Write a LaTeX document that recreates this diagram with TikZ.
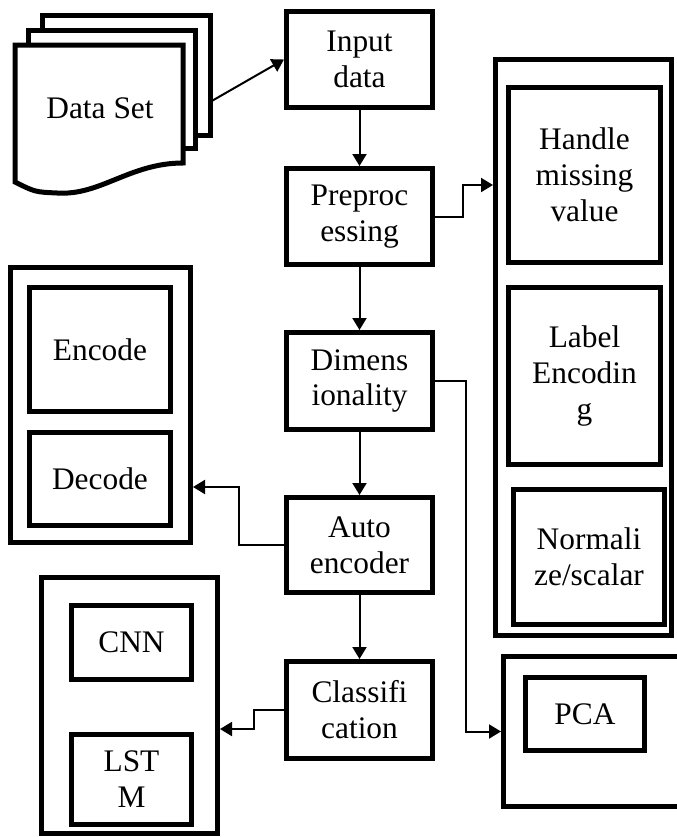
\documentclass[tikz,border=0pt]{standalone}
\usepackage{fontspec}
\setmainfont{Liberation Serif}
\usetikzlibrary{arrows.meta}
\begin{document}
\begin{tikzpicture}[x=1bp,y=-1bp,
  box/.style={draw,line width=5bp,fill=white,align=center,inner sep=0pt,font=\fontsize{31.5}{36}\selectfont},
  doc/.style={draw,line width=5bp,fill=white},
  lbl/.style={align=center,inner sep=0pt,font=\fontsize{31.5}{36}\selectfont},
  conn/.style={line width=2bp,-{Triangle[length=12bp,width=14bp]}},
]
\useasboundingbox (0,0) rectangle (677,837);
% data set (multi-document)
\path[doc] (42,15) rectangle (210,135);
\path[doc] (28,30) rectangle (195,148);
\path[doc] (15,45) -- (183,45) -- (183,163) .. controls (130,163) and (100,196) .. (57,193) .. controls (35,192) .. (15,182) -- cycle;
\node[lbl] (ds) at (100,108) {Data Set};
\coordinate (dsout) at (210,102);
% centre column
\node[box,minimum width=146bp,minimum height=96bp] (inp) at (359.5,59.5) {Input\\data};
\node[box,minimum width=146bp,minimum height=96bp] (pre) at (359.5,216.5) {Preproc\\essing};
\node[box,minimum width=146bp,minimum height=97bp] (dim) at (359.5,381) {Dimens\\ionality};
\node[box,minimum width=146bp,minimum height=95bp] (auto) at (359.5,545) {Auto\\encoder};
\node[box,minimum width=146bp,minimum height=97bp] (cls) at (359.5,710) {Classifi\\cation};
% right group
\node[box,minimum width=176bp,minimum height=576bp] (rb) at (583.5,347.5) {};
\node[box,minimum width=152bp,minimum height=175bp] (hmv) at (584.5,175) {Handle\\missing\\value};
\node[box,minimum width=152bp,minimum height=177bp] (le) at (584.5,376) {Label\\Encodin\\g};
\node[box,minimum width=151bp,minimum height=135bp] (norm) at (589,557) {Normali\\ze/scalar};
% PCA group
\begin{scope}
\clip (0,0) rectangle (677,837);
\node[box,minimum width=185bp,minimum height=150bp] (pcaout) at (596,731.5) {};
\end{scope}
\node[box,minimum width=119bp,minimum height=73bp] (pca) at (585,714) {PCA};
% autoencoder group
\node[box,minimum width=180bp,minimum height=275bp] (lt) at (100.5,405) {};
\node[box,minimum width=141bp,minimum height=124bp] (enc) at (100,349.5) {Encode};
\node[box,minimum width=141bp,minimum height=93bp] (dec) at (100,479) {Decode};
% classifier group
\node[box,minimum width=176bp,minimum height=256bp] (bl) at (129.5,705.5) {};
\node[box,minimum width=120bp,minimum height=74bp] (cnn) at (131.5,642.5) {CNN};
\node[box,minimum width=120bp,minimum height=90bp] (lstm) at (131.5,779.5) {LST\\M};
% connectors
\draw[conn] (dsout) -- (inp.west);
\draw[conn] (inp) -- (pre);
\draw[conn] (pre) -- (dim);
\draw[conn] (dim) -- (auto);
\draw[conn] (auto) -- (cls);
\draw[conn] (pre.east) -- ++(28,0) |- (rb.west |- 0,185);
\draw[conn] (dim.east) -- ++(31,0) |- (pcaout.west);
\draw[conn] (auto.west) -- ++(-45,0) |- (lt.east |- 0,487);
\draw[conn] (cls.west) -- ++(-30,0) |- (bl.east |- 0,729);
\end{tikzpicture}
\end{document}
